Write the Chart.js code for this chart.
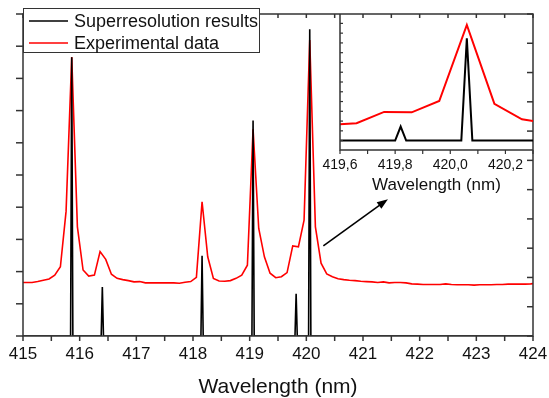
<!DOCTYPE html>
<html>
<head>
<meta charset="utf-8">
<script src="https://cdn.jsdelivr.net/npm/chart.js@4.4.0/dist/chart.umd.min.js"></script>
<style>
    html, body { margin: 0; padding: 0; background: #fff; }
    #wrap { position: relative; width: 549px; height: 398px; }
    #mainChart { position: absolute; left: 0; top: 0; }
    #insetChart { position: absolute; left: 300px; top: 0; }
</style>
</head>
<body>
<div id="wrap">
    <canvas id="mainChart" width="549" height="398"></canvas>
    <canvas id="insetChart" width="249" height="200"></canvas>
</div>
<script>
// Experimental spectrum (red), sampled every 0.1 nm
const wavelengths = [
    414.96,
    415.06, 415.16, 415.26, 415.36, 415.46, 415.56, 415.66, 415.76, 415.86, 415.96,
    416.06, 416.16, 416.26, 416.36, 416.46, 416.56, 416.66, 416.76, 416.86, 416.96,
    417.06, 417.16, 417.26, 417.36, 417.46, 417.56, 417.66, 417.76, 417.86, 417.96,
    418.06, 418.16, 418.26, 418.36, 418.46, 418.56, 418.66, 418.76, 418.86, 418.96,
    419.06, 419.16, 419.26, 419.36, 419.46, 419.56, 419.66, 419.76, 419.86, 419.96,
    420.06, 420.16, 420.26, 420.36, 420.46, 420.56, 420.66, 420.76, 420.86, 420.96,
    421.06, 421.16, 421.26, 421.36, 421.46, 421.56, 421.66, 421.76, 421.86, 421.96,
    422.06, 422.16, 422.26, 422.36, 422.46, 422.56, 422.66, 422.76, 422.86, 422.96,
    423.06, 423.16, 423.26, 423.36, 423.46, 423.56, 423.66, 423.76, 423.86, 423.96,
    424.06
];
const experimental = [
    1.66,
    1.66, 1.66, 1.69, 1.73, 1.77, 1.89, 2.15, 3.87, 8.66, 3.39,
    2.05, 1.86, 1.89, 2.62, 2.38, 1.92, 1.79, 1.75, 1.72, 1.68,
    1.69, 1.65, 1.65, 1.65, 1.65, 1.65, 1.65, 1.64, 1.67, 1.69,
    1.82, 4.17, 2.46, 1.79, 1.71, 1.70, 1.72, 1.79, 1.89, 2.20,
    6.42, 3.34, 2.46, 1.95, 1.81, 1.84, 1.97, 2.80, 2.77, 3.60,
    9.19, 3.39, 2.26, 1.93, 1.84, 1.78, 1.75, 1.73, 1.72, 1.70,
    1.69, 1.68, 1.66, 1.68, 1.65, 1.66, 1.66, 1.65, 1.62, 1.61,
    1.60, 1.60, 1.60, 1.60, 1.62, 1.60, 1.59, 1.59, 1.59, 1.58,
    1.59, 1.59, 1.59, 1.60, 1.60, 1.61, 1.61, 1.61, 1.61, 1.62,
    1.64
];

// Superresolution result (black), zero except narrow lines
const superWavelengths = [
    415.00,
    415.84, 415.86, 415.88,
    416.38, 416.40, 416.42,
    418.14, 418.16, 418.18,
    419.04, 419.06, 419.08,
    419.80, 419.82, 419.84,
    420.04, 420.06, 420.08,
    424.00
];
const superValues = [
    0,
    0, 9.52, 0,
    0, 1.67, 0,
    0, 2.74, 0,
    0, 7.36, 0,
    0, 1.44, 0,
    0, 10.48, 0,
    0
];

// Axis ticks
const xTickLabels = [415, 416, 417, 418, 419, 420, 421, 422, 423, 424];
const xTickMarks = [415, 415.5, 416, 416.5, 417, 417.5, 418, 418.5, 419, 419.5,
    420, 420.5, 421, 421.5, 422, 422.5, 423, 423.5, 424];
const leftTicks = [0, 1, 2, 3, 4, 5, 6, 7, 8, 9, 10];
const rightTicks = [0, 1, 2, 3, 4, 5, 6, 7, 8, 9, 10, 11];
const insetTickMarks = [419.6, 419.7, 419.8, 419.9, 420.0, 420.1, 420.2, 420.3];
const insetTickLabels = [419.6, 419.8, 420.0, 420.2];
const insetYTicks = [0, 1, 2, 3, 4, 5, 6, 7, 8, 9, 10, 11, 12];

// Arrow annotation, in data units (x nm, left axis)
const arrowFrom = [420.30, 2.80];
const arrowTo = [421.44, 4.25];

const FONT = "'Liberation Sans', Arial, sans-serif";
const AXIS_COLOR = '#333';

const toPoints = (xs, ys) => xs.map((x, i) => ({ x: x, y: ys[i] }));

function tickSet(ctx, scale, values, axisPos, dir, len, horizontal) {
    values.forEach(v => {
        const p = scale.getPixelForValue(v);
        ctx.beginPath();
        if (horizontal) {
            ctx.moveTo(p, axisPos);
            ctx.lineTo(p, axisPos + dir * len);
        } else {
            ctx.moveTo(axisPos, p);
            ctx.lineTo(axisPos + dir * len, p);
        }
        ctx.stroke();
    });
}

// Frame, ticks, arrow and legend for the main plot
const mainDecor = {
    id: 'mainDecor',
    afterDatasetsDraw(chart) {
        const { ctx, chartArea: a, scales } = chart;
        ctx.save();
        ctx.strokeStyle = AXIS_COLOR;
        ctx.lineWidth = 1.5;
        ctx.strokeRect(a.left, a.top, a.right - a.left, a.bottom - a.top);

        tickSet(ctx, scales.x, xTickMarks, a.bottom, 1, 5, true);
        tickSet(ctx, scales.x, xTickMarks, a.top, 1, 4, true);
        tickSet(ctx, scales.y, leftTicks, a.left, -1, 7, false);
        tickSet(ctx, scales.y2, rightTicks, a.right, -1, 6, false);

        // arrow
        const x0 = scales.x.getPixelForValue(arrowFrom[0]);
        const y0 = scales.y.getPixelForValue(arrowFrom[1]);
        const x1 = scales.x.getPixelForValue(arrowTo[0]);
        const y1 = scales.y.getPixelForValue(arrowTo[1]);
        const ang = Math.atan2(y1 - y0, x1 - x0);
        ctx.strokeStyle = '#000';
        ctx.fillStyle = '#000';
        ctx.lineWidth = 1.6;
        ctx.beginPath();
        ctx.moveTo(x0, y0);
        ctx.lineTo(x1 - 8 * Math.cos(ang), y1 - 8 * Math.sin(ang));
        ctx.stroke();
        ctx.beginPath();
        ctx.moveTo(x1, y1);
        ctx.lineTo(x1 - 11 * Math.cos(ang) + 4 * Math.sin(ang), y1 - 11 * Math.sin(ang) - 4 * Math.cos(ang));
        ctx.lineTo(x1 - 11 * Math.cos(ang) - 4 * Math.sin(ang), y1 - 11 * Math.sin(ang) + 4 * Math.cos(ang));
        ctx.closePath();
        ctx.fill();

        // legend box
        const lx = a.left, ly = 8, lw = 236, lh = 44;
        ctx.fillStyle = '#fff';
        ctx.fillRect(lx, ly, lw, lh);
        ctx.strokeStyle = AXIS_COLOR;
        ctx.lineWidth = 1;
        ctx.strokeRect(lx + 0.5, ly + 0.5, lw, lh);
        ctx.font = '18px ' + FONT;
        ctx.textBaseline = 'middle';
        chart.data.datasets.forEach((ds, i) => {
            const yy = 21 + i * 22;
            ctx.strokeStyle = ds.borderColor;
            ctx.lineWidth = 1.6;
            ctx.beginPath();
            ctx.moveTo(29, yy);
            ctx.lineTo(68, yy);
            ctx.stroke();
            ctx.fillStyle = '#111';
            ctx.fillText(ds.label, 74, yy + 1);
        });
        ctx.restore();
    }
};

// Left and bottom axes of the inset
const insetDecor = {
    id: 'insetDecor',
    afterDatasetsDraw(chart) {
        const { ctx, chartArea: a, scales } = chart;
        ctx.save();
        ctx.strokeStyle = AXIS_COLOR;
        ctx.lineWidth = 1.5;
        ctx.beginPath();
        ctx.moveTo(a.left, a.top);
        ctx.lineTo(a.left, a.bottom);
        ctx.lineTo(a.right, a.bottom);
        ctx.stroke();
        ctx.lineWidth = 1.2;
        tickSet(ctx, scales.x, insetTickMarks, a.bottom, 1, 4, true);
        tickSet(ctx, scales.yb, insetYTicks, a.left, 1, 3, false);
        ctx.restore();
    }
};

// keep the plot area fixed: no extra room for the edge labels
const fixBottom = (h) => (scale) => {
    scale.height = h;
    scale.paddingLeft = 0;
    scale.paddingRight = 0;
};

new Chart(document.getElementById('mainChart').getContext('2d'), {
    type: 'line',
    data: {
        datasets: [{
            label: 'Superresolution results',
            data: toPoints(superWavelengths, superValues),
            borderColor: '#000000',
            borderWidth: 1.6,
            pointRadius: 0,
            tension: 0,
            yAxisID: 'y2'
        }, {
            label: 'Experimental data',
            data: toPoints(wavelengths, experimental),
            borderColor: '#ff0000',
            borderWidth: 1.6,
            pointRadius: 0,
            tension: 0,
            yAxisID: 'y'
        }]
    },
    options: {
        responsive: false,
        devicePixelRatio: 1,
        animation: false,
        events: [],
        layout: { padding: { left: 23, right: 16, top: 14, bottom: 0 } },
        plugins: { legend: { display: false }, tooltip: { enabled: false } },
        scales: {
            x: {
                type: 'linear',
                min: 415,
                max: 424,
                grid: { display: false, drawTicks: false },
                border: { display: false },
                afterFit: fixBottom(62),
                ticks: {
                    stepSize: 1,
                    padding: 8,
                    maxRotation: 0,
                    color: '#111',
                    font: { family: FONT, size: 17 },
                    callback: (v) => xTickLabels.includes(v) ? String(v) : ''
                },
                title: {
                    display: true,
                    text: 'Wavelength (nm)',
                    color: '#111',
                    font: { family: FONT, size: 21, lineHeight: 1 },
                    padding: { top: 0, bottom: 0 }
                }
            },
            y: { display: false, min: 0, max: 10 },
            y2: { display: false, min: 0, max: 11 }
        }
    },
    plugins: [mainDecor]
});

new Chart(document.getElementById('insetChart').getContext('2d'), {
    type: 'line',
    data: {
        datasets: [{
            label: 'Superresolution results',
            data: toPoints(superWavelengths, superValues),
            borderColor: '#000000',
            borderWidth: 2,
            pointRadius: 0,
            tension: 0,
            yAxisID: 'yb'
        }, {
            label: 'Experimental data',
            data: toPoints(wavelengths, experimental),
            borderColor: '#ff0000',
            borderWidth: 2,
            pointRadius: 0,
            tension: 0,
            yAxisID: 'yr'
        }]
    },
    options: {
        responsive: false,
        devicePixelRatio: 1,
        animation: false,
        events: [],
        layout: { padding: { left: 40, right: 16, top: 14, bottom: 0 } },
        plugins: { legend: { display: false }, tooltip: { enabled: false } },
        scales: {
            x: {
                type: 'linear',
                min: 419.6,
                max: 420.3,
                grid: { display: false, drawTicks: false },
                border: { display: false },
                afterFit: fixBottom(50),
                ticks: {
                    stepSize: 0.1,
                    padding: 7,
                    maxRotation: 0,
                    autoSkip: false,
                    color: '#111',
                    font: { family: FONT, size: 14 },
                    callback: (v) => {
                        const hit = insetTickLabels.find(t => Math.abs(t - v) < 1e-6);
                        return hit !== undefined ? hit.toFixed(1).replace('.', ',') : '';
                    }
                },
                title: {
                    display: true,
                    text: 'Wavelength (nm)',
                    color: '#111',
                    font: { family: FONT, size: 17, lineHeight: 1 },
                    padding: { top: 0, bottom: 6 }
                }
            },
            yr: { display: false, min: 0, max: 10 },
            yb: { display: false, min: -0.96, max: 12.96 }
        }
    },
    plugins: [insetDecor]
});
</script>
</body>
</html>
